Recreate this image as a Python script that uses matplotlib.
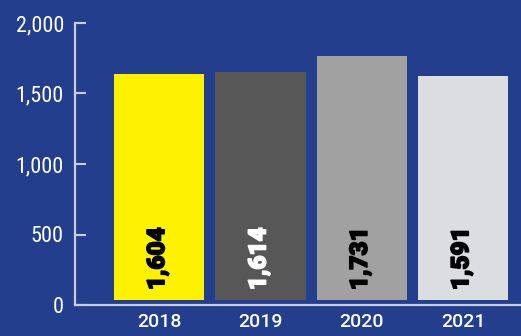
import matplotlib
matplotlib.use("Agg")
import matplotlib.pyplot as plt
import matplotlib.patheffects as pe
from matplotlib import font_manager
from matplotlib.ticker import FuncFormatter

years = ["2018", "2019", "2020", "2021"]
counts = [1604, 1614, 1731, 1591]
bar_colors = ["#fff200", "#575757", "#a1a1a1", "#dcdde0"]
label_colors = ["black", "white", "black", "black"]
y_ticks = [0, 500, 1000, 1500, 2000]

BG = "#243e8e"
AXIS = "#c8cee2"


def pick_font(candidates):
    for name in candidates:
        try:
            font_manager.findfont(name, fallback_to_default=False)
            return name
        except ValueError:
            continue
    return "DejaVu Sans"


narrow = pick_font(["Liberation Sans Narrow", "DejaVu Sans Condensed", "Roboto Condensed"])
plain = pick_font(["Roboto", "Liberation Sans"])

fig = plt.figure(figsize=(5.21, 3.36), dpi=100, facecolor=BG)
ax = fig.add_axes([75 / 521, 31 / 336, 446 / 521, 282 / 336])
ax.set_facecolor(BG)

x = list(range(len(years)))
# bars sit slightly above the baseline
base = 36
ax.bar(x, counts, width=0.89, bottom=base, color=bar_colors, zorder=2)

for xi, v, c in zip(x, counts, label_colors):
    ax.annotate(f"{v:,}", xy=(xi, base), xytext=(-1, 7), textcoords="offset points",
                rotation=90, ha="center", va="bottom", color=c,
                fontsize=17.5, fontweight=900, family=plain, zorder=3,
                path_effects=[pe.withStroke(linewidth=1.1, foreground=c)])

ax.set_xlim(-0.83, 3.57)
ax.set_ylim(0, 2000)
ax.set_xticks(x)
ax.set_xticklabels(years, family=plain, fontsize=14, fontweight="medium", color="white")
ax.set_yticks(y_ticks)
ax.yaxis.set_major_formatter(FuncFormatter(lambda v, p: f"{int(v):,}"))
for lbl in ax.get_yticklabels():
    lbl.set_family(narrow)
    lbl.set_fontsize(16)
    lbl.set_color("white")

ax.tick_params(axis="x", length=0, pad=6)
ax.tick_params(axis="y", direction="in", length=8, width=1.5, color=AXIS, pad=8)

for side in ["top", "right"]:
    ax.spines[side].set_visible(False)
for side in ["left", "bottom"]:
    ax.spines[side].set_color(AXIS)
    ax.spines[side].set_linewidth(1.6)

fig.savefig("out.png", dpi=100, facecolor=BG)
